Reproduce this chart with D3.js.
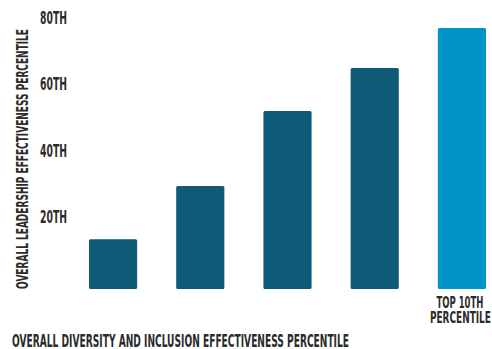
<!DOCTYPE html>
<html>
<head>
<meta charset="utf-8">
<script src="https://cdn.jsdelivr.net/npm/d3@7"></script>
<style>
  html, body { margin: 0; padding: 0; background: #fff; }
  svg { display: block; }
  text { font-family: "DejaVu Sans Condensed", "Liberation Sans Narrow", "Roboto Condensed", sans-serif; font-weight: bold; fill: #2b2b2b; }
</style>
</head>
<body>
<script>
// ---- data ----
const categories = ["Q1", "Q2", "Q3", "Q4", "TOP10"];
const categoryLabels = [[], [], [], [], ["TOP 10TH", "PERCENTILE"]];
const values = [15, 31, 53.5, 66.5, 78.5];
const highlight = [false, false, false, false, true];
const yTicks = [20, 40, 60, 80];
const yTickLabels = ["20TH", "40TH", "60TH", "80TH"];
const yTitle = "OVERALL LEADERSHIP EFFECTIVENESS PERCENTILE";
const xTitle = "OVERALL DIVERSITY AND INCLUSION EFFECTIVENESS PERCENTILE";

const W = 492, H = 349;
const svg = d3.select("body").append("svg").attr("width", W).attr("height", H);

const x = d3.scaleBand().domain(categories).range([89, 486]).paddingInner(0.448).paddingOuter(0);
const y = d3.scaleLinear().domain([0, 80]).range([289, 23]);

// bars
svg.append("g").selectAll("rect")
  .data(values)
  .join("rect")
  .attr("x", (d, i) => x(categories[i]))
  .attr("y", d => y(d))
  .attr("width", x.bandwidth())
  .attr("height", d => y(0) - y(d))
  .attr("rx", 1.5)
  .attr("fill", (d, i) => highlight[i] ? "#0095c6" : "#0f5b77");

// y axis tick labels
const yAxis = d3.axisLeft(y).tickValues(yTicks)
  .tickFormat((d, i) => yTickLabels[i]).tickSize(0);
const yg = svg.append("g").attr("transform", "translate(40,0)").call(yAxis);
yg.select(".domain").remove();
yg.selectAll("text")
  .attr("x", 0).attr("dy", null).attr("y", 0)
  .attr("text-anchor", "start")
  .attr("font-size", 17)
  .attr("fill", "#2b2b2b")
  .attr("font-family", null)
  .attr("textLength", 27)
  .attr("lengthAdjust", "spacingAndGlyphs");

// x axis category labels
const xAxis = d3.axisBottom(x).tickSize(0).tickFormat(() => "");
const xg = svg.append("g").attr("transform", `translate(0,${y(0)})`).call(xAxis);
xg.select(".domain").remove();
xg.selectAll(".tick text").remove();
xg.selectAll(".tick").each(function(d, i) {
  const lines = categoryLabels[i];
  lines.forEach((ln, j) => {
    d3.select(this).append("text")
      .attr("text-anchor", "middle")
      .attr("font-size", 16)
      .attr("fill", "#2b2b2b")
      .attr("x", j === 0 ? -2 : -1.5).attr("y", 19 + j * 15)
      .attr("textLength", j === 0 ? 47 : 61)
      .attr("lengthAdjust", "spacingAndGlyphs")
      .text(ln);
  });
});

// axis titles
svg.append("text")
  .attr("transform", "translate(28,159) rotate(-90)")
  .attr("text-anchor", "middle")
  .attr("font-size", 15.5)
  .attr("textLength", 260)
  .attr("lengthAdjust", "spacingAndGlyphs")
  .text(yTitle);

svg.append("text")
  .attr("x", 12).attr("y", 347)
  .attr("font-size", 17)
  .attr("textLength", 337)
  .attr("lengthAdjust", "spacingAndGlyphs")
  .text(xTitle);
</script>
</body>
</html>
